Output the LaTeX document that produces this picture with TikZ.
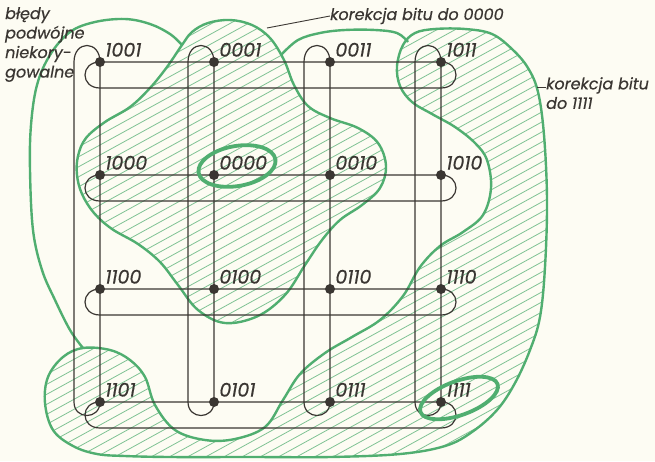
\documentclass[tikz,border=0pt]{standalone}
\usepackage{fontspec}
\setmainfont{Poppins}
\newfontfamily\techfont{Poppins}[FakeBold=0.5]
\usetikzlibrary{calc}

\definecolor{zielony}{RGB}{80,174,112}
\definecolor{kreska}{RGB}{128,194,148}
\definecolor{tusz}{RGB}{58,54,50}
\definecolor{papier}{RGB}{253,252,243}

\tikzset{
	wdot/.style={circle, fill=tusz, inner sep=0pt, minimum size=10pt},
	wlab/.style={font=\techfont\itshape\fontsize{19}{19}\selectfont, text=tusz, inner sep=1.5pt},
	petla/.style={draw=tusz, line width=1.2pt},
	obrys/.style={draw=zielony, line width=2.4pt},
	pierscien/.style={draw=zielony, line width=3.8pt},
	opis/.style={font=\techfont\itshape\fontsize{16}{19.5}\selectfont, text=tusz, inner sep=0pt}
}

\newcommand\obszarA{plot[smooth cycle, tension=0.6] coordinates {(182,45) (167,67) (150,88) (130,107) (105,122) (86,138) (78,156) (77,175) (82,194) (94,213) (112,229) (138,244) (160,262) (178,285) (198,310) (225,323) (258,316) (285,295) (305,265) (322,240) (340,220) (362,205) (380,188) (386,166) (378,143) (358,128) (330,118) (308,106) (294,85) (284,60) (270,38) (252,25) (230,20) (208,23) (192,32)}}
\newcommand\obszarB{plot[smooth cycle, tension=0.6] coordinates {(83,348) (110,350) (130,360) (145,377) (155,405) (175,430) (205,440) (235,439) (265,427) (283,400) (300,374) (325,353) (352,337) (380,320) (403,296) (420,267) (440,246) (463,232) (483,215) (491,188) (487,160) (475,143) (455,127) (432,114) (412,102) (400,86) (397,66) (403,45) (415,33) (435,29) (465,29) (492,34) (513,50) (528,68) (538,92) (544,135) (547,200) (545,267) (540,317) (530,350) (515,383) (497,410) (472,432) (445,446) (400,454) (330,457) (250,457) (170,457) (125,456) (97,454) (73,446) (53,430) (45,403) (48,377) (63,357)}}

\begin{document}
\begin{tikzpicture}[x=1pt, y=-1pt]
	\fill[papier] (0,0) rectangle (655,461);
	\useasboundingbox (0,0) rectangle (655,461);

	% kreskowanie
	\begin{scope}
		\clip \obszarA \obszarB;
		\foreach \c in {0,10,...,840}
			\draw[kreska, line width=0.8pt] (0,\c) -- ++(700,-385);
	\end{scope}

	\draw[obrys] \obszarA;
	\draw[obrys] \obszarB;
	\draw[obrys] plot[smooth, tension=0.6] coordinates {(182,45) (170,34) (150,24) (125,19) (95,22) (70,32) (50,55) (37,85) (31,125) (30,170) (33,230) (42,270) (55,300) (70,330) (83,348)};
	\draw[obrys] plot[smooth, tension=0.6] coordinates {(281,55) (298,40) (320,33) (345,30) (375,30) (397,33) (408,42)};

	% slowa kodowe
	\foreach \x/\y/\w in {100/62/1001, 214/62/0001, 330/62/0011, 441/62/1011,
		100/175/1000, 214/175/0000, 330/175/0010, 441/175/1010,
		100/289/1100, 214/289/0100, 330/289/0110, 441/289/1110,
		100/402/1101, 214/402/0101, 330/402/0111, 441/402/1111}
		\node[wdot, label={[wlab, label distance=0pt]above right:\w}] (w\w) at (\x,\y) {};

	\foreach \a/\b in {1001/1011, 1000/1010, 1100/1110, 1101/1111}
		\draw[petla] (w\a.center) -- (w\b.center)
			.. controls ($(w\b.center)+(20,0)$) and ($(w\b.center)+(20,26)$) .. ($(w\b.center)+(0,26)$)
			-- ($(w\a.center)+(0,26)$)
			.. controls ($(w\a.center)+(-20,26)$) and ($(w\a.center)+(-20,0)$) .. cycle;
	\foreach \a/\b in {1001/1101, 0001/0101, 0011/0111, 1011/1111}
		\draw[petla] (w\a.center) -- (w\b.center)
			.. controls ($(w\b.center)+(0,18)$) and ($(w\b.center)+(-26,18)$) .. ($(w\b.center)+(-26,0)$)
			-- ($(w\a.center)+(-26,0)$)
			.. controls ($(w\a.center)+(-26,-22)$) and ($(w\a.center)+(0,-22)$) .. cycle;

	\draw[pierscien, rotate around={10:(237,166)}] (237,166) ellipse [x radius=39, y radius=20];
	\draw[pierscien, rotate around={20:(459,398)}] (459,398) ellipse [x radius=41, y radius=17];

	% opisy
	\node[opis, anchor=north west, align=left] (niekor) at (5,7) {błędy\\podwójne\\niekory-\\gowalne};
	\node[opis, anchor=west] (kor0000) at (330,16) {korekcja bitu do 0000};
	\coordinate (k0000) at (267,28);
	\draw[petla, line width=0.9pt] (k0000) -- (kor0000.west);
	\node[opis, anchor=north west, align=left] (kor1111) at (546,77) {korekcja bitu\\do 1111};
	\coordinate (k1111) at (537,87);
	\draw[petla, line width=0.9pt] (k1111) -- (k1111 -| kor1111.west);
\end{tikzpicture}
\end{document}
